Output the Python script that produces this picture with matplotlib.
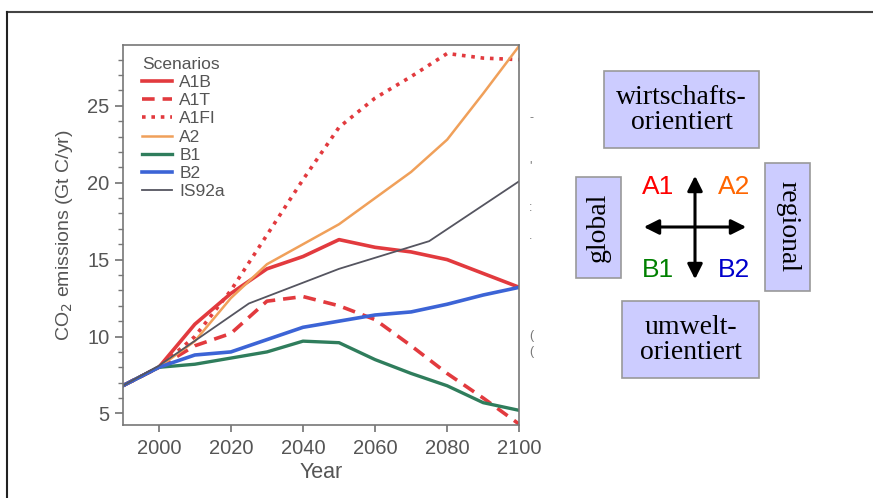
import matplotlib
matplotlib.use('Agg')
import matplotlib.pyplot as plt
from matplotlib.patches import Rectangle

plt.rcParams['font.family'] = ['Liberation Sans', 'DejaVu Sans']

# SRES scenarios (Gt C/yr)
years = [1990, 2000, 2010, 2020, 2030, 2040, 2050, 2060, 2070, 2080, 2090, 2100]
a1b = [6.8, 8.0, 10.8, 12.8, 14.4, 15.2, 16.3, 15.8, 15.5, 15.0, 14.1, 13.2]
a1t = [6.8, 8.0, 9.4, 10.2, 12.3, 12.6, 12.0, 11.1, 9.4, 7.6, 6.0, 4.3]
a1fi = [6.8, 8.0, 10.0, 13.0, 16.6, 20.2, 23.6, 25.5, 26.9, 28.4, 28.1, 28.0]
a2 = [6.8, 8.0, 9.7, 12.5, 14.7, 16.0, 17.3, 19.0, 20.7, 22.8, 25.8, 28.9]
b1 = [6.8, 8.0, 8.2, 8.6, 9.0, 9.7, 9.6, 8.5, 7.6, 6.8, 5.7, 5.2]
b2 = [6.8, 8.0, 8.8, 9.0, 9.8, 10.6, 11.0, 11.4, 11.6, 12.1, 12.7, 13.2]
is92a_years = [1990, 2000, 2025, 2050, 2075, 2100]
is92a = [6.8, 8.1, 12.15, 14.4, 16.2, 20.1]

scenario_labels = ['A1', 'A2', 'B1', 'B2']
scenario_colors = ['#ff0000', '#ff6600', '#008000', '#0000cc']

red = '#e23a3e'
grey_txt = '#555555'

fig = plt.figure(figsize=(8.73, 4.98), dpi=100)

ax = fig.add_axes([0.1406, 0.1466, 0.4542, 0.763])
ax.plot(years, a1b, color=red, lw=2.6, label='A1B')
ax.plot(years, a1t, color=red, lw=2.6, ls=(0, (3.5, 2.2)), label='A1T')
ax.plot(years, a1fi, color=red, lw=2.6, ls=(0, (1, 1.6)), label='A1FI')
ax.plot(years, a2, color='#f0a05a', lw=1.8, label='A2')
ax.plot(years, b1, color='#2f7d5c', lw=2.4, label='B1')
ax.plot(years, b2, color='#3c64d6', lw=2.6, label='B2')
ax.plot(is92a_years, is92a, color='#555560', lw=1.3, label='IS92a')

ax.set_xlim(1990, 2100)
ax.set_ylim(4.25, 28.95)
ax.set_xticks(range(2000, 2101, 20))
ax.set_yticks([5, 10, 15, 20, 25])
ax.set_yticks(range(5, 29), minor=True)
ax.tick_params(axis='both', labelsize=14.5, colors='#666666', labelcolor=grey_txt, width=1.1)
ax.tick_params(axis='y', which='major', length=6)
ax.tick_params(axis='y', which='minor', length=3.5, width=1.0, colors='#777777')
ax.tick_params(axis='x', length=5, pad=5)
for s in ax.spines.values():
    s.set_color('#777777')
    s.set_linewidth(1.2)
ax.set_xlabel('Year', fontsize=15.5, color=grey_txt, labelpad=3)
ax.set_ylabel('CO$_2$ emissions (Gt C/yr)', fontsize=14, color=grey_txt, labelpad=9)

leg = ax.legend(title='Scenarios', loc='upper left', bbox_to_anchor=(0.018, 1.0),
                frameon=False, fontsize=12.5, title_fontsize=12.5,
                handlelength=1.7, handletextpad=0.45, labelspacing=0.17,
                borderaxespad=0.3, alignment='left')
for t in leg.get_texts():
    t.set_color(grey_txt)
leg.get_title().set_color(grey_txt)

# overlay in pixel coordinates for the diagram and slide frame
ov = fig.add_axes([0, 0, 1, 1])
ov.set_xlim(0, 873)
ov.set_ylim(498, 0)
ov.axis('off')
ov.patch.set_alpha(0)

ov.plot([7, 873], [12, 12], color='#444444', lw=1.5)
ov.plot([7, 7], [12, 498], color='#222222', lw=1.5)

# bits of the neighbouring, cropped-off figure
for fy, ft in [(118, '-'), (166, "'"), (208, ':'), (236, '.'), (336, '('), (352, '(')]:
    ov.text(531, fy, ft, color='#777777', fontsize=9, ha='center', va='center')

box_kw = dict(facecolor='#ccccff', edgecolor='#999999', lw=1.2)
serif = ['Liberation Serif', 'DejaVu Serif']
ov.add_patch(Rectangle((604, 71), 155, 77, **box_kw))
ov.text(681.5, 110, 'wirtschafts-\norientiert', ha='center', va='center',
        fontsize=20, family=serif, linespacing=1.0)
ov.add_patch(Rectangle((622, 301), 137, 77, **box_kw))
ov.text(690.5, 340, 'umwelt-\norientiert', ha='center', va='center',
        fontsize=20, family=serif, linespacing=1.0)
ov.add_patch(Rectangle((576, 177), 45, 101, **box_kw))
ov.text(598.5, 227.5, 'global', ha='center', va='center', rotation=90,
        fontsize=20, family=serif)
ov.add_patch(Rectangle((765, 163), 45, 128, **box_kw))
ov.text(787.5, 227, 'regional', ha='center', va='center', rotation=270,
        fontsize=20, family=serif)

arrow_kw = dict(arrowstyle='<|-|>,head_length=0.9,head_width=0.45', color='black', lw=2.2)
ov.annotate('', xy=(641, 227), xytext=(749, 227), arrowprops=arrow_kw)
ov.annotate('', xy=(695, 173), xytext=(695, 282), arrowprops=arrow_kw)

label_pos = [(658, 187), (734, 187), (658, 270), (734, 270)]
for lab, col, (px, py) in zip(scenario_labels, scenario_colors, label_pos):
    ov.text(px, py, lab, color=col, ha='center', va='center', fontsize=19)

fig.savefig('out.png', dpi=100)
